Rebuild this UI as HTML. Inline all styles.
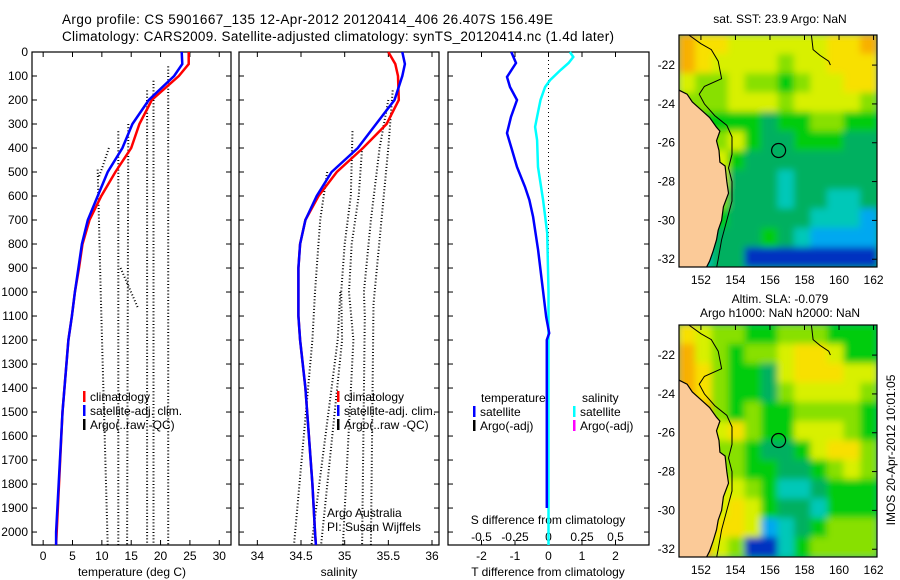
<!DOCTYPE html>
<html><head><meta charset="utf-8">
<style>
body{margin:0;background:#fff;}
svg{display:block;font-family:"Liberation Sans",sans-serif;}
text{fill:#000;}
</style></head>
<body>
<svg id="c" width="900" height="580" viewBox="0 0 900 580" xmlns="http://www.w3.org/2000/svg">
<defs>
<filter id="blur" x="-5%" y="-5%" width="110%" height="110%"><feGaussianBlur stdDeviation="3.5"/></filter>
<clipPath id="clipm1"><rect x="679" y="35" width="198" height="232"/></clipPath>
<clipPath id="clipm2"><rect x="679" y="325" width="198" height="232"/></clipPath>
</defs>
<text x="62" y="24" font-size="13.5" textLength="491">Argo profile: CS 5901667_135 12-Apr-2012 20120414_406 26.407S 156.49E</text>
<text x="62" y="41" font-size="13.5" textLength="552">Climatology: CARS2009. Satellite-adjusted climatology: synTS_20120414.nc (1.4d later)</text>
<g id="g"></g>
</svg>
<script>
// ---------- data ----------
const depthTicks=[0,100,200,300,400,500,600,700,800,900,1000,1100,1200,1300,1400,1500,1600,1700,1800,1900,2000];
const tTicks=[0,5,10,15,20,25,30];
const sTicks=[34,34.5,35,35.5,36];
const dTTicks=[-2,-1,0,1,2];
const dSTicks=[-0.5,-0.25,0,0.25,0.5];
const tempDepth=[0,50,100,200,300,400,500,600,700,800,900,1000,1100,1200,1500,2000,2054];
const tempClim=[24.8,24.8,23.1,18.5,16.4,15.0,12.3,9.9,7.9,6.7,6.1,5.4,4.9,4.3,3.3,2.3,2.2];
const tempSat=[23.6,23.7,22.3,18.0,15.2,13.5,11.0,9.3,7.6,6.6,6.0,5.4,4.9,4.3,3.3,2.2,2.2];
const salDepth=[0,50,100,200,300,400,500,600,700,800,900,1000,1100,1200,1400,1600,1800,2000,2054];
const salClim=[35.5,35.58,35.61,35.62,35.48,35.21,34.91,34.70,34.55,34.49,34.47,34.47,34.47,34.49,34.55,34.59,34.63,34.66,34.67];
const salSat=[35.66,35.69,35.66,35.57,35.36,35.15,34.85,34.68,34.55,34.49,34.47,34.47,34.47,34.49,34.55,34.59,34.63,34.66,34.67];
const dTDepth=[0,46,104,146,200,270,338,408,479,562,617,687,825,963,1104,1171,1200,1900];
const dTVal=[-1.11,-0.97,-1.24,-1.15,-0.94,-1.12,-1.24,-1.09,-0.94,-0.70,-0.57,-0.46,-0.31,-0.19,-0.07,0.02,-0.05,-0.05];
const dSDepth=[0,21,46,75,117,146,200,270,312,367,479,617,754,1000,2054];
const dSVal=[0.16,0.185,0.15,0.09,0.012,-0.025,-0.06,-0.085,-0.10,-0.085,-0.078,-0.04,-0.01,0,0];
const argoT=[
 [[490,9.3],[1000,9.8],[2054,11.0]],
 [[330,12.8],[2054,12.8]],
 [[900,13.2],[1070,16.2]],
 [[300,14.5],[2054,14.3]],
 [[160,17.7],[2054,17.7]],
 [[120,18.8],[2054,18.8]],
 [[60,21.3],[2054,21.3]],
 [[400,11.2],[480,10.1],[520,9.5]]
];
const argoS=[
 [[500,34.8],[700,34.72],[1000,34.66],[1200,34.63],[2054,34.42]],
 [[1000,34.95],[1200,34.92],[2054,34.62]],
 [[330,35.09],[600,35.07],[800,35.0],[1000,34.96],[1200,34.97],[2054,34.73]],
 [[400,35.2],[600,35.16],[800,35.08],[1000,35.05],[1200,35.1],[2054,34.98]],
 [[200,35.5],[400,35.4],[700,35.3],[1000,35.22],[1100,35.23],[2054,35.2]],
 [[160,35.55],[400,35.5],[1050,35.33],[2054,35.3]]
];
const latTicks=[-22,-24,-26,-28,-30,-32];
const lonTicks=[152,154,156,158,160,162];
const sstGrid=[
 [9,8,8,7,7,7,7,7,7,8,8,9],
 [9,8,7,7,7,7,6,7,7,8,8,8],
 [7,6,6,7,6,6,5,6,7,7,8,8],
 [6,6,6,7,7,7,6,7,7,7,7,6],
 [5,5,5,5,5,4,5,5,6,6,5,5],
 [5,5,6,7,5,4,4,5,5,5,4,4],
 [5,5,7,5,4,4,4,4,4,4,4,4],
 [5,5,7,4,4,4,3,4,4,4,4,4],
 [5,5,6,4,4,4,3,4,4,3,3,4],
 [4,4,5,4,4,4,4,4,3,3,3,2],
 [4,4,4,4,4,5,4,3,2,2,2,2],
 [3,3,4,4,1,1,1,1,1,1,1,1]
];
const slaGrid=[
 [8,7,6,6,5,5,6,6,6,5,5,5],
 [9,7,6,5,6,6,7,8,8,7,5,5],
 [9,8,6,5,5,4,7,8,8,8,7,7],
 [9,8,6,5,5,4,6,7,7,7,7,6],
 [9,9,6,5,6,5,5,6,6,6,6,5],
 [9,9,7,8,6,5,5,7,7,7,6,5],
 [9,9,6,6,5,4,4,5,7,8,8,6],
 [9,9,6,6,5,5,4,4,5,6,7,6],
 [9,9,7,7,6,5,3,3,4,5,5,5],
 [9,8,7,8,7,5,4,4,3,5,5,5],
 [9,8,8,8,7,2,3,4,5,6,6,6],
 [9,9,7,6,1,1,3,5,6,6,6,6]
];
const coastLon=[150.7,150.75,151.2,151.5,152.0,152.5,152.9,153.1,152.9,153.05,153.1,153.4,153.5,153.6,153.3,153.2,153.0,152.9,152.7,152.5,152.3];
const coastLat=[-23.2,-23.3,-23.5,-23.9,-24.3,-24.7,-25.2,-25.4,-25.9,-26.4,-27.0,-27.2,-28.0,-28.6,-29.3,-30.0,-30.5,-31.0,-31.6,-32.1,-32.45];
const isoLon=[151.3,152,152.6,153,153.2,152.2,151.9,152.2,152.8,153.5,153.8,153.8,153.6,153.8,153.8,153.5,153.2,153.0,152.9];
const isoLat=[-20.45,-20.9,-21.2,-21.8,-22.7,-23.1,-23.5,-24.0,-24.6,-25.1,-25.7,-26.6,-27.3,-28.0,-29.0,-30.0,-31.0,-32.0,-32.45];
const iso2Lon=[158.4,158.5,158.9,159.4,159.5];
const iso2Lat=[-20.45,-21.2,-21.5,-21.8,-22.0];
const argoPos=[156.5,-26.4];
const palette=["#000","#0030c0","#00a8f0","#00c8b8","#00b060","#00cc10","#88e000","#d8f000","#f8e000","#f8b000"];

// ---------- helpers ----------
const NS="http://www.w3.org/2000/svg";
const G=document.getElementById('g');
function mk(tag,attrs,parent){const e=document.createElementNS(NS,tag);for(const k in attrs)e.setAttribute(k,attrs[k]);(parent||G).appendChild(e);return e;}
function txt(x,y,s,size,anchor,parent){const t=mk('text',{x:x,y:y,'font-size':size||12,'text-anchor':anchor||'start'},parent);t.textContent=s;return t;}
const Y0=52,Y1=545,DMAX=2054;
function yD(d){return Y0+d*(Y1-Y0)/DMAX;}
function lin(a,b,p0,p1){return v=>p0+(v-a)*(p1-p0)/(b-a);}
const P=[
 {x0:32,x1:231,sx:lin(-1.9,32,32,231),name:'temperature-panel'},
 {x0:239,x1:439,sx:lin(33.79,36.08,239,439),name:'salinity-panel'},
 {x0:448,x1:649,sx:lin(-3,3,448,649),name:'difference-panel'}
];
const sxS=v=>P[2].sx(v*4);

// ---------- profile panels ----------
P.forEach((p,i)=>{
 const r=mk('rect',{x:p.x0,y:Y0,width:p.x1-p.x0,height:Y1-Y0,fill:'#fff',stroke:'#000','stroke-width':1.2});
 
 
 depthTicks.forEach(d=>{
  mk('line',{x1:p.x0,x2:p.x0+5,y1:yD(d),y2:yD(d),stroke:'#000'});
  mk('line',{x1:p.x1,x2:p.x1-5,y1:yD(d),y2:yD(d),stroke:'#000'});
 });
});
depthTicks.forEach(d=>{
 const t=txt(28,yD(d)+4,String(d),12,'end');
 
 
});
function xTicks(p,ticks,fx,ly,fmt){
 ticks.forEach(v=>{
  const x=fx(v);
  mk('line',{x1:x,x2:x,y1:Y0,y2:Y0+5,stroke:'#000'});
  mk('line',{x1:x,x2:x,y1:Y1,y2:Y1-5,stroke:'#000'});
  if(ly){const t=txt(x,ly,fmt?fmt(v):String(v),12,'middle');
  
  }
 });
}
xTicks(P[0],tTicks,P[0].sx,560);
xTicks(P[1],sTicks,P[1].sx,560);
xTicks(P[2],dTTicks,P[2].sx,560);
dSTicks.forEach(v=>{const t=txt(sxS(v),541,String(v),12,'middle');
 
 });
let t;
t=txt(132,576,'temperature (deg C)',12,'middle');
t=txt(339,576,'salinity',12,'middle');
t=txt(548,576,'T difference from climatology',12,'middle');
t=txt(548,524,'S difference from climatology',12,'middle');

function line(fx,depths,vals,color,w,name,dash){
 const pts=depths.map((d,i)=>fx(vals[i]).toFixed(1)+','+yD(d).toFixed(1)).join(' ');
 const a={points:pts,fill:'none',stroke:color,'stroke-width':w};
 if(dash)a['stroke-dasharray']=dash;
 const e=mk('polyline',a);
 
 
 return e;
}
argoT.forEach(s=>line(P[0].sx,s.map(q=>q[0]),s.map(q=>q[1]),'#000',2,'argo-temperature-profile','1 2.2'));
argoS.forEach(s=>line(P[1].sx,s.map(q=>q[0]),s.map(q=>q[1]),'#000',2,'argo-salinity-profile','1 2.2'));
line(P[0].sx,tempDepth,tempClim,'#ff0000',2.5,'temperature-climatology-line');
line(P[0].sx,tempDepth,tempSat,'#0000ff',2.5,'temperature-satellite-line');
line(P[1].sx,salDepth,salClim,'#ff0000',2.5,'salinity-climatology-line');
line(P[1].sx,salDepth,salSat,'#0000ff',2.5,'salinity-satellite-line');
const z=mk('line',{x1:P[2].sx(0),x2:P[2].sx(0),y1:Y0,y2:Y1,stroke:'#000','stroke-dasharray':'1 3'});

line(sxS,dSDepth,dSVal,'#00ffff',2.5,'salinity-difference-line');
line(P[2].sx,dTDepth,dTVal,'#0000ff',2.5,'temperature-difference-line');

// legends
function legEntry(x,y,color,label,name){
 const g=mk('g',{});
 
 
 mk('rect',{x:x,y:y-10,width:2.5,height:11,fill:color},g);
 txt(x+7,y,label,12,'start',g);
}
legEntry(83,401,'#ff0000','climatology','legend-entry-climatology');
legEntry(83,415,'#0000ff','satellite-adj. clim.','legend-entry-satellite');
legEntry(83,429,'#000','Argo(..raw -QC)','legend-entry-argo');
legEntry(337,401,'#ff0000','climatology','legend-entry-climatology');
legEntry(337,415,'#0000ff','satellite-adj. clim.','legend-entry-satellite');
legEntry(337,429,'#000','Argo(..raw -QC)','legend-entry-argo');
t=txt(327,517,'Argo Australia',12);
t=txt(327,531,'PI: Susan Wijffels',12);
t=txt(481,402,'temperature',12);
t=txt(582,402,'salinity',12);
legEntry(473,416,'#0000ff','satellite','legend-entry-t-satellite');
legEntry(473,430,'#000','Argo(-adj)','legend-entry-t-argo');
legEntry(573,416,'#00ffff','satellite','legend-entry-s-satellite');
legEntry(573,430,'#ff00ff','Argo(-adj)','legend-entry-s-argo');

// ---------- maps ----------
const LON0=150.73,LON1=162.2,LAT0=-20.45,LAT1=-32.4;
function drawMap(top,grid,clip,name){
 const mx=lin(LON0,LON1,679,877), my=lin(LAT0,LAT1,top,top+232);
 const g=mk('g',{'clip-path':'url(#'+clip+')'});
 
 
 const inner=mk('g',{filter:'url(#blur)'},g);
 const nr=grid.length,nc=grid[0].length;
 const cw=(LON1-LON0)/nc, ch=(LAT0-LAT1)/nr;
 mk('rect',{x:660,y:top-20,width:240,height:272,fill:'#00b060'},inner);
 grid.forEach((row,ri)=>row.forEach((v,ci)=>{
  const x=mx(LON0+ci*cw), y=my(LAT0-ri*ch);
  const c=mk('rect',{x:x-0.5,y:y-0.5,width:mx(LON0+cw)-mx(LON0)+1,height:my(LAT0-ch)-my(LAT0)+1,fill:palette[v]},inner);
  
  
 }));
 let lp='670,'+(top-10);
 coastLon.forEach((lo,i)=>{lp+=' '+mx(lo).toFixed(1)+','+my(coastLat[i]).toFixed(1);});
 lp+=' 670,'+(top+250);
 const land=mk('polygon',{points:lp,fill:'#fbca98',stroke:'#000','stroke-width':1.2},g);
 
 
 const ip=isoLon.map((lo,i)=>mx(lo).toFixed(1)+','+my(isoLat[i]).toFixed(1)).join(' ');
 const iso=mk('polyline',{points:ip,fill:'none',stroke:'#000','stroke-width':1},g);
 
 
 const ip2=iso2Lon.map((lo,i)=>mx(lo).toFixed(1)+','+my(iso2Lat[i]).toFixed(1)).join(' ');
 mk('polyline',{points:ip2,fill:'none',stroke:'#000','stroke-width':1},g);
 const c=mk('circle',{cx:mx(argoPos[0]),cy:my(argoPos[1]),r:7,fill:'none',stroke:'#000','stroke-width':1.2});
 
 
 const fr=mk('rect',{x:679,y:top,width:198,height:232,fill:'none',stroke:'#000','stroke-width':1.2});
 
 
 latTicks.forEach(v=>{
  const y=my(v);
  mk('line',{x1:877,x2:872,y1:y,y2:y,stroke:'#000'});
  const tl=txt(675,y+4,String(v),12,'end');
  
  
 });
 lonTicks.forEach(v=>{
  const x=mx(v);
  mk('line',{x1:x,x2:x,y1:top,y2:top+5,stroke:'#000'});
  const tl=txt(x,top+249,String(v),12,'middle');
  
  
 });
}
drawMap(35,sstGrid,'clipm1','sst-map');
drawMap(325,slaGrid,'clipm2','sla-map');
t=txt(780,23,'sat. SST: 23.9 Argo: NaN',12,'middle');
t=txt(780,303,'Altim. SLA: -0.079',12,'middle');
t=txt(780,317,'Argo h1000: NaN h2000: NaN',12,'middle');
t=txt(0,0,'IMOS 20-Apr-2012 10:01:05',12,'middle');
t.setAttribute('transform','translate(895,450) rotate(-90)');

</script>
</body></html>
